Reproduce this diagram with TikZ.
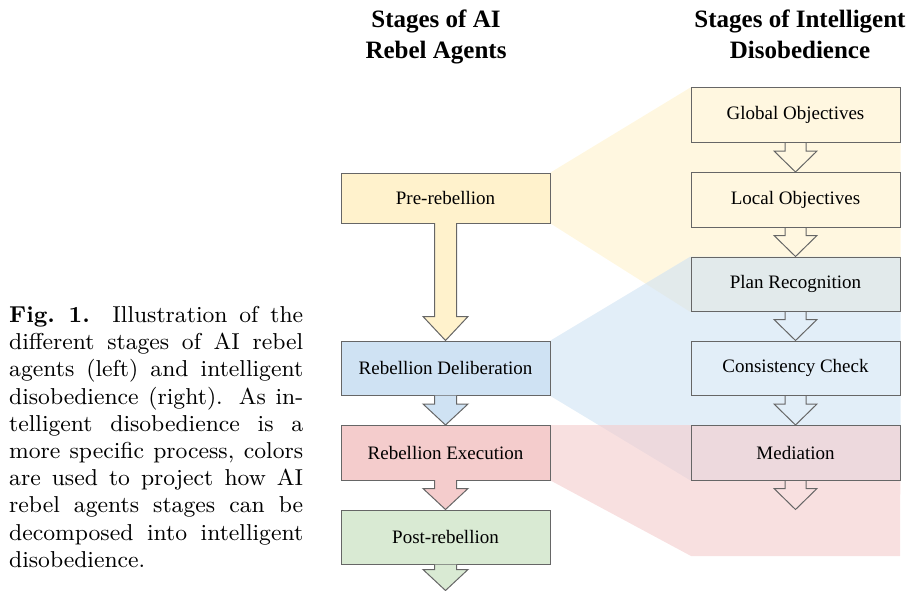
\documentclass[tikz,border=0pt]{standalone}
\usepackage{fontspec}
\newfontfamily\timesfont{Liberation Serif}
\newfontfamily\capfont{lmroman9-regular.otf}[BoldFont=lmroman9-bold.otf]
\usetikzlibrary{calc}
\definecolor{cyel}{HTML}{FFF2CC}
\definecolor{cblu}{HTML}{CFE2F3}
\definecolor{cred}{HTML}{F4CCCC}
\definecolor{cgrn}{HTML}{D9EAD3}
\definecolor{cline}{HTML}{666666}
\pgfdeclarelayer{bg}
\pgfsetlayers{bg,main}
% #1 start point, #2 tip point, #3 shaft half width, #4 head half width, #5 head length, #6 fill
\newcommand\blockarrow[6]{%
  \path[fill=#6] let \p1=(#1), \p2=(#2) in
    (\x2-#3pt,\y1+0.5pt) -- (\x2-#3pt,\y2+#5pt) -- (\x2-#4pt,\y2+#5pt) -- (\x2,\y2)
    -- (\x2+#4pt,\y2+#5pt) -- (\x2+#3pt,\y2+#5pt) -- (\x2+#3pt,\y1+0.5pt) -- cycle;
  \draw[arrowline] let \p1=(#1), \p2=(#2) in
    (\x2-#3pt,\y1+0.5pt) -- (\x2-#3pt,\y2+#5pt) -- (\x2-#4pt,\y2+#5pt) -- (\x2,\y2)
    -- (\x2+#4pt,\y2+#5pt) -- (\x2+#3pt,\y2+#5pt) -- (\x2+#3pt,\y1+0.5pt);}
\tikzset{
  stagebox/.style={draw=cline, line width=1pt, minimum width=209pt, minimum height=54.5pt,
    inner sep=0pt, font=\timesfont\fontsize{19}{22}\selectfont},
  band/.style={draw=none, opacity=0.6},
  arrowline/.style={draw=cline, line width=1pt, line join=miter},
  header/.style={font=\timesfont\bfseries\fontsize{25}{31}\selectfont, align=center, inner sep=0pt, anchor=north},
}
\begin{document}
\begin{tikzpicture}[x=1pt,y=-1pt]
\useasboundingbox (0,0) rectangle (912,591);
% headers
\node[header] (hl) at (436,10) {Stages of AI\\Rebel Agents};
\node[header] (hr) at (800,10) {Stages of Intelligent\\Disobedience};
% right column
\node[stagebox] (glob) at (795.5,115.25) {Global Objectives};
\node[stagebox] (loc)  at (795.5,199.75) {Local Objectives};
\node[stagebox] (plan) at (795.5,284.25) {Plan Recognition};
\node[stagebox] (cons) at (795.5,368.25) {Consistency Check};
\node[stagebox] (med)  at (795.5,452.75) {Mediation};
\coordinate (medend) at (795.5,509.5);
% left column
\node[stagebox, fill=cyel, minimum height=50pt] (pre) at (445.5,198) {Pre-rebellion};
\node[stagebox, fill=cblu] (del) at (445.5,368.25) {Rebellion Deliberation};
\node[stagebox, fill=cred] (exe) at (445.5,452.75) {Rebellion Execution};
\node[stagebox, fill=cgrn] (pos) at (445.5,537.25) {Post-rebellion};
\coordinate (posend) at (445.5,590.5);
% projection bands
\begin{pgfonlayer}{bg}
  \fill[band, cyel] (pre.north east) -- (glob.north west) -- (glob.north east)
     -- (plan.south east) -- (plan.south west) -- (pre.south east) -- cycle;
  \fill[band, cblu] (del.north east) -- (plan.north west) -- (plan.north east)
     -- (med.south east) -- (med.south west) -- (del.south east) -- cycle;
  \fill[band, cred] (exe.north east) -- (med.north west) -- (med.north east)
     -- (900,556) -- (691,556) -- (exe.south east) -- cycle;
\end{pgfonlayer}
% left arrows
\blockarrow{pre.south}{del.north}{11}{22.5}{24}{cyel}
\blockarrow{del.south}{exe.north}{11}{22.5}{21}{cblu}
\blockarrow{exe.south}{pos.north}{11}{22.5}{21}{cred}
\blockarrow{pos.south}{posend}{11}{22.5}{21}{cgrn}
% right arrows
\blockarrow{glob.south}{loc.north}{10.5}{21.5}{21}{none}
\blockarrow{loc.south}{plan.north}{10.5}{21.5}{21}{none}
\blockarrow{plan.south}{cons.north}{10.5}{21.5}{21}{none}
\blockarrow{cons.south}{med.north}{10.5}{21.5}{21}{none}
\blockarrow{med.south}{medend}{10.5}{21.5}{21}{none}
% caption
\node[anchor=north west, inner sep=0pt, align=left, font=\capfont\fontsize{23}{27.2}\selectfont] (cap) at (9,306) {%
\makebox[294pt][s]{\textbf{Fig.~1.} Illustration of the}\\
\makebox[294pt][s]{different stages of AI rebel}\\
\makebox[294pt][s]{agents (left) and intelligent}\\
\makebox[294pt][s]{disobedience (right). As in-}\\
\makebox[294pt][s]{telligent disobedience is a}\\
\makebox[294pt][s]{more specific process, colors}\\
\makebox[294pt][s]{are used to project how AI}\\
\makebox[294pt][s]{rebel agents stages can be}\\
\makebox[294pt][s]{decomposed into intelligent}\\
disobedience.};
\end{tikzpicture}
\end{document}
